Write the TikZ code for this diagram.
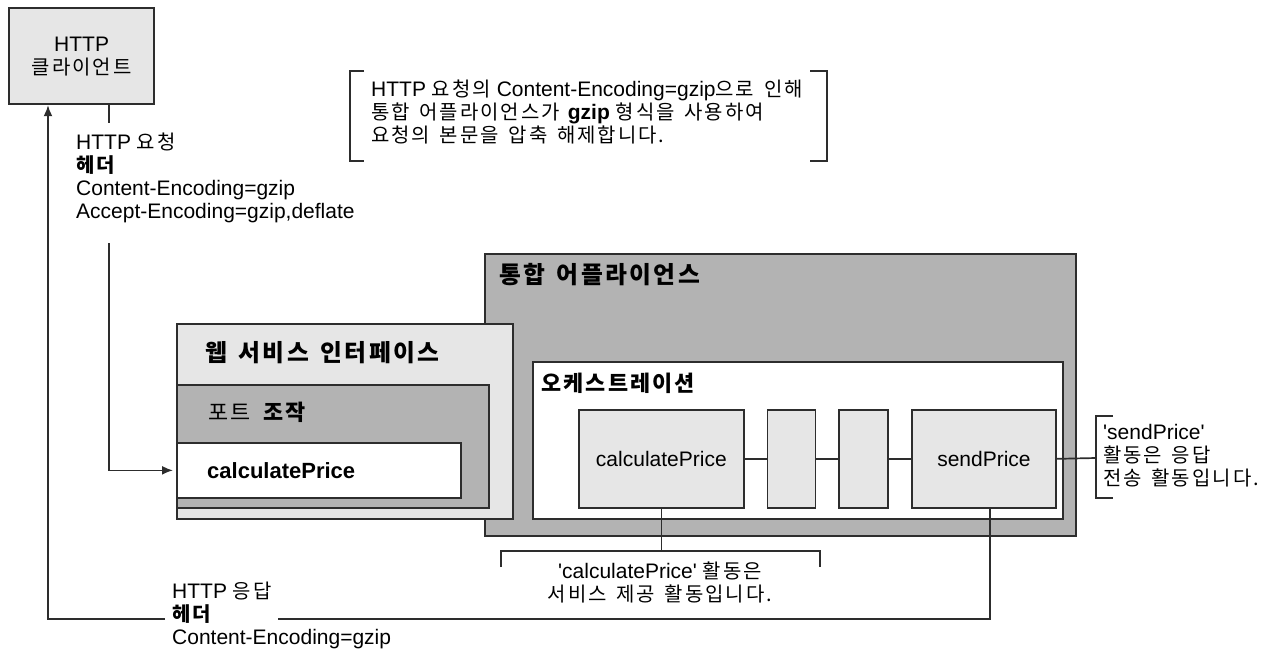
\documentclass[tikz,border=0pt]{standalone}
\usepackage{fontspec}
\setmainfont{Liberation Sans}
\newfontfamily\krfont[Scale=0.95,LetterSpace=10,WordSpace=1.5]{Noto Sans CJK KR}
\newcommand{\ko}[1]{{\krfont #1}}
\newcommand{\bodyfont}{\fontsize{21}{23}\selectfont}
\newcommand{\titlefont}{\fontsize{25}{28}\selectfont}
\usetikzlibrary{positioning,calc,arrows.meta}
\definecolor{PanelGray}{RGB}{179,179,179}
\definecolor{PaleGray}{RGB}{230,230,230}
\definecolor{EdgeGray}{RGB}{45,45,45}
\tikzset{>={Latex[length=11pt,width=9pt]}}
\tikzset{panel/.style={draw=EdgeGray,line width=1.7pt,anchor=north west,inner sep=0pt}}
\tikzset{actbox/.style={panel,fill=PaleGray,minimum height=98pt,font=\bodyfont}}
\tikzset{bodytext/.style={inner sep=0pt,font=\bodyfont,align=left}}
\tikzset{paneltitle/.style={inner sep=0pt,anchor=west,font=\titlefont\bfseries}}
\tikzset{link/.style={draw=EdgeGray,line width=1.7pt}}

\begin{document}
\begin{tikzpicture}[x=1pt,y=-1pt]
    \useasboundingbox (0,0) rectangle (1275,654);
    % client and request headers
    \node[panel,fill=PaleGray,line width=2.2pt,minimum width=145pt,minimum height=96pt,font=\bodyfont,align=center] (client) at (8,7) {HTTP\\\ko{클라이언트}};
    \node[bodytext,anchor=north west] (reqhdr) at (76,133) {HTTP \ko{요청}\\\textbf{\ko{헤더}}\\Content-Encoding=gzip\\Accept-Encoding=gzip,deflate};
    \coordinate (reqx) at (109,0);
    \node[bodytext,anchor=west] (gzipnote) at (371,112) {HTTP \ko{요청의} Content-Encoding=gzip\ko{으로 인해}\\\ko{통합 어플라이언스가} \textbf{gzip} \ko{형식을 사용하여}\\\ko{요청의 본문을 압축 해제합니다.}};
    \coordinate (gzipL) at (350,116);
    \coordinate (gzipR) at (827,116);
    % integration appliance
    \node[panel,fill=PanelGray,minimum width=591pt,minimum height=282pt] (appliance) at (484,253) {};
    \node[paneltitle] (appliancetitle) at ($(appliance.north west)+(15,22)$) {\ko{통합 어플라이언스}};
    \node[panel,fill=white,minimum width=530pt,minimum height=157pt] (orch) at (532,361) {};
    \node[paneltitle,font=\fontsize{23}{26}\selectfont\bfseries] (orchtitle) at ($(orch.north west)+(9,22)$) {\ko{오케스트레이션}};
    \node[actbox,minimum width=165pt] (actcalc) at (578,409) {calculatePrice};
    \node[actbox,minimum width=48pt,right=22pt of actcalc] (actA) {};
    \node[actbox,minimum width=49pt,right=22pt of actA] (actB) {};
    \node[actbox,minimum width=144pt,right=22pt of actB] (actsend) {sendPrice};
    \draw[link] (actcalc) -- (actA) (actA) -- (actB) (actB) -- (actsend);
    % web service interface
    \node[panel,fill=PaleGray,minimum width=336pt,minimum height=195pt] (webif) at (176,323) {};
    \node[paneltitle] (webiftitle) at ($(webif.north west)+(29,30)$) {\ko{웹 서비스 인터페이스}};
    \node[panel,fill=PanelGray,minimum width=312pt,minimum height=123pt] (portop) at (176,384) {};
    \node[paneltitle,font=\fontsize{23}{26}\selectfont] (portoptitle) at ($(portop.north west)+(32,28)$) {\ko{포트 \textbf{조작}}};
    \node[panel,fill=white,minimum width=284pt,minimum height=55pt] (calcop) at (176,442) {};
    \node[paneltitle,font=\fontsize{22}{24}\selectfont\bfseries] (calcoptitle) at ($(calcop.west)+(31,0)$) {calculatePrice};
    % activity notes
    \node[bodytext,anchor=west] (sendnote) at (1103,456) {\textquotesingle sendPrice\textquotesingle\\\ko{활동은 응답}\\\ko{전송 활동입니다.}};
    \coordinate (sendbr) at ($(sendnote.west)+(-7,2)$);
    \node[bodytext,align=center] (calcnote) at (660,582) {\textquotesingle calculatePrice\textquotesingle\ \ko{활동은}\\\ko{서비스 제공 활동입니다.}};
    \coordinate (calcbr) at (661,551);
    \draw[link] (actsend.east) -- (sendbr);
    \draw[link] ($(sendbr)+(17,-42)$) -- ($(sendbr)+(0,-42)$) -- ($(sendbr)+(0,40)$) -- ($(sendbr)+(17,40)$);
    \draw[link] (actcalc.south) -- (actcalc.south |- calcbr);
    \draw[link] ($(calcbr)+(-160,16)$) -- ($(calcbr)+(-160,0)$) -- ($(calcbr)+(159,0)$) -- ($(calcbr)+(159,16)$);
    \draw[link] ($(gzipL)+(14,-45)$) -- ($(gzipL)+(0,-45)$) -- ($(gzipL)+(0,45)$) -- ($(gzipL)+(14,45)$);
    \draw[link] ($(gzipR)+(-17,-45)$) -- ($(gzipR)+(0,-45)$) -- ($(gzipR)+(0,45)$) -- ($(gzipR)+(-17,45)$);
    % request and response
    \draw[link] (client.south -| reqx) -- ($(reqhdr.north -| reqx)+(0,-10)$);
    \draw[link,->,shorten >=3pt] ($(reqhdr.south -| reqx)+(0,20)$) |- (calcop.west);
    \node[bodytext,anchor=west] (resphdr) at (172,615) {HTTP \ko{응답}\\\textbf{\ko{헤더}}\\Content-Encoding=gzip};
    \coordinate (retx) at (48,0);
    \draw[link] ([xshift=6pt]actsend.south) |- ($(resphdr.west)+(106,4)$);
    \draw[link,->] ($(resphdr.west)+(-7,4)$) -| (retx |- client.south);
\end{tikzpicture}
\end{document}
